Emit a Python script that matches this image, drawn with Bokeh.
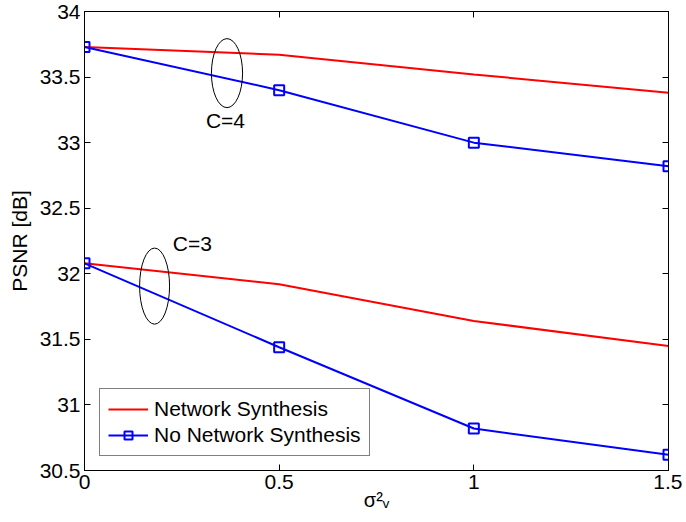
from bokeh.plotting import figure
from bokeh.models import (Range1d, FixedTicker, NumeralTickFormatter, LinearAxis,
                          Label, Legend, LegendItem)
from bokeh.embed import file_html
from bokeh.resources import INLINE

# ---- data ----
x = [0, 0.5, 1, 1.5]
c4_net = [33.73, 33.67, 33.52, 33.38]
c4_nonet = [33.73, 33.40, 33.00, 32.82]
c3_net = [32.08, 31.92, 31.64, 31.45]
c3_nonet = [32.08, 31.44, 30.82, 30.62]

x_ticks = [0, 0.5, 1, 1.5]
y_ticks = [30.5, 31, 31.5, 32, 32.5, 33, 33.5, 34]

# ellipse annotations (center x, center y, width, height) and labels
ell_x = [0.366, 0.180]
ell_y = [33.53, 31.906]
ell_w = [0.080, 0.077]
ell_h = [0.526, 0.58]
ann_text = ["C=4", "C=3"]
ann_x = [0.362, 0.277]
ann_y = [33.17, 32.23]

FONT = "Liberation Sans"
FS = "21px"
RED = "#ff0000"
BLUE = "#0000ff"

p = figure(frame_width=584, frame_height=459, x_range=Range1d(0, 1.5),
           y_range=Range1d(30.5, 34),
           output_backend="svg", toolbar_location=None,
           min_border_left=84, min_border_right=14, min_border_top=11, min_border_bottom=46)

p.xgrid.visible = False
p.ygrid.visible = False
p.outline_line_color = "black"
p.outline_line_width = 1
p.background_fill_color = "white"
p.border_fill_color = "white"

for ax in [p.xaxis[0], p.yaxis[0]]:
    ax.major_tick_in = 6
    ax.major_tick_out = 0
    ax.minor_tick_line_color = None
    ax.axis_line_color = "black"
    ax.major_tick_line_color = "black"
    ax.major_label_text_font = FONT
    ax.major_label_text_font_size = FS
    ax.major_label_text_color = "black"
    ax.formatter = NumeralTickFormatter(format="0.[0]")

p.xaxis[0].ticker = FixedTicker(ticks=x_ticks)
p.yaxis[0].ticker = FixedTicker(ticks=y_ticks)
p.xaxis[0].major_label_standoff = 4
p.xaxis[0].axis_label = "σ²ᵥ"
p.xaxis[0].axis_label_text_font = FONT
p.xaxis[0].axis_label_text_font_size = "20px"
p.xaxis[0].axis_label_text_font_style = "normal"
p.xaxis[0].axis_label_text_color = "black"
p.xaxis[0].axis_label_standoff = -3
p.yaxis[0].major_label_standoff = 4
p.yaxis[0].axis_label = "PSNR [dB]"
p.yaxis[0].axis_label_text_font = FONT
p.yaxis[0].axis_label_text_font_size = FS
p.yaxis[0].axis_label_text_font_style = "normal"
p.yaxis[0].axis_label_text_color = "black"
p.yaxis[0].axis_label_standoff = 6

# mirrored axes (box on): ticks only, labels not painted
top = LinearAxis(ticker=FixedTicker(ticks=x_ticks), major_tick_in=6, major_tick_out=0,
                 minor_tick_line_color=None, major_label_text_font_size="1px",
                 major_label_text_color=None, major_label_standoff=0)
right = LinearAxis(ticker=FixedTicker(ticks=y_ticks), major_tick_in=6, major_tick_out=0,
                   minor_tick_line_color=None, major_label_text_font_size="1px",
                   major_label_text_color=None, major_label_standoff=0)
p.add_layout(top, "above")
p.add_layout(right, "right")

# lines
r4n = p.line(x, c4_net, line_color=RED, line_width=2)
r3n = p.line(x, c3_net, line_color=RED, line_width=2)
b4 = p.line(x, c4_nonet, line_color=BLUE, line_width=2)
b4s = p.scatter(x, c4_nonet, marker="square", size=10, line_color=BLUE, line_width=2,
                fill_alpha=0)
b3 = p.line(x, c3_nonet, line_color=BLUE, line_width=2)
b3s = p.scatter(x, c3_nonet, marker="square", size=10, line_color=BLUE, line_width=2,
                fill_alpha=0)

# ellipses
p.ellipse(x=ell_x, y=ell_y, width=ell_w, height=ell_h, fill_alpha=0,
          line_color="black", line_width=1)

for t, tx, ty in zip(ann_text, ann_x, ann_y):
    p.add_layout(Label(x=tx, y=ty, text=t, text_font=FONT, text_font_size=FS,
                       text_align="center", text_baseline="middle", text_color="black"))

legend = Legend(items=[LegendItem(label="Network Synthesis", renderers=[r3n]),
                       LegendItem(label="No Network Synthesis", renderers=[b3, b3s])],
                location=(15, 14), label_text_font=FONT, label_text_font_size=FS,
                label_text_color="black",
                glyph_width=40, glyph_height=20, label_height=22, label_standoff=6,
                padding=8, spacing=2, margin=0,
                border_line_color="black", border_line_width=1,
                background_fill_color="white", background_fill_alpha=1)
p.add_layout(legend, "center")

open("out.html", "w").write(file_html(p, INLINE))
